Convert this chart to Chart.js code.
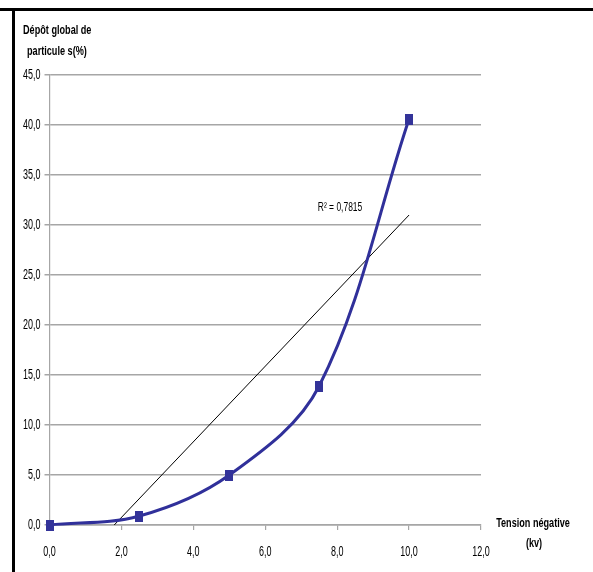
<!DOCTYPE html>
<html>
<head>
<meta charset="utf-8">
<script src="https://cdn.jsdelivr.net/npm/chart.js@4.4.0/dist/chart.umd.min.js"></script>
<style>
html,body{margin:0;padding:0;background:#fff;}
#wrap{position:relative;width:593px;height:572px;}
</style>
</head>
<body>
<div id="wrap"><canvas id="c" width="593" height="572"></canvas></div>
<script>
// Data
const tensionKv = [0, 2.5, 5, 7.5, 10];
const depotPct = [0, 0.9, 5.0, 13.9, 40.6];
const trendX = [1.8, 10];
const trendY = [0, 31.0];
const r2Label = 'R² = 0,7815';
const yTitle = ['Dépôt global de', 'particule s(%)'];
const xTitle = ['Tension négative', '(kv)'];

const FONT = "'Liberation Sans', Arial, sans-serif";
const BLUE = '#30309a';

function makeMarker(){
  const cv = document.createElement('canvas');
  cv.width = 8; cv.height = 11;
  const g = cv.getContext('2d');
  g.fillStyle = '#333399';
  g.fillRect(0,0,8,11);
  return cv;
}
const marker = makeMarker();

const fmt = v => Number(v).toFixed(1).replace('.', ',');

// draw horizontally condensed text (the reference uses a narrow face)
function narrowText(ctx, text, x, y, size, bold, sx, align){
  ctx.save();
  ctx.font = (bold ? 'bold ' : '') + size + 'px ' + FONT;
  ctx.textBaseline = 'middle';
  ctx.textAlign = align;
  ctx.translate(x, y);
  ctx.scale(sx, 1);
  ctx.fillText(text, 0, 0);
  ctx.restore();
}

const decor = {
  id: 'decor',
  afterDraw(chart){
    const ctx = chart.ctx;
    const xs = chart.scales.x, ys = chart.scales.y;
    ctx.save();
    // frame lines
    ctx.fillStyle = '#000';
    ctx.fillRect(0, 8, 593, 3);
    ctx.fillRect(12, 8, 3, 564);
    // tick labels from the library's scales
    ctx.fillStyle = '#000';
    ys.ticks.forEach(t => {
      narrowText(ctx, fmt(t.value), 40.5, ys.getPixelForValue(t.value), 14.5, false, 0.62, 'right');
    });
    xs.ticks.forEach(t => {
      narrowText(ctx, fmt(t.value), xs.getPixelForValue(t.value), 552, 14.5, false, 0.62, 'center');
    });
    // titles
    narrowText(ctx, yTitle[0], 23, 31, 12.5, true, 0.73, 'left');
    narrowText(ctx, yTitle[1], 27, 52, 12.5, true, 0.73, 'left');
    narrowText(ctx, xTitle[0], 533, 523, 13, true, 0.7, 'center');
    narrowText(ctx, xTitle[1], 534, 543, 13, true, 0.7, 'center');
    // R2 label
    narrowText(ctx, r2Label, xs.getPixelForValue(8.08), ys.getPixelForValue(31.8), 13, false, 0.65, 'center');
    ctx.restore();
  }
};

new Chart(document.getElementById('c'), {
  type: 'line',
  data: {
    datasets: [
      {
        label: 'trend',
        data: trendX.map((x,i)=>({x, y: trendY[i]})),
        borderColor: '#000',
        borderWidth: 1,
        pointRadius: 0,
        tension: 0,
        order: 2
      },
      {
        label: 'depot',
        data: tensionKv.map((x,i)=>({x, y: depotPct[i]})),
        borderColor: BLUE,
        borderWidth: 3,
        tension: 0.35,
        pointStyle: marker,
        pointRadius: 5,
        clip: false,
        order: 1
      }
    ]
  },
  options: {
    responsive: false,
    animation: false,
    devicePixelRatio: 1,
    layout: { padding: { left: 0, top: 75, right: 112, bottom: 0 } },
    plugins: { legend: { display: false }, tooltip: { enabled: false } },
    scales: {
      x: {
        type: 'linear', min: 0, max: 12,
        afterFit(s){ s.height = 47; },
        ticks: { display: false, stepSize: 2 },
        grid: { drawOnChartArea: false, drawTicks: true, tickLength: 5, color: '#a6a6a6', lineWidth: 1.2 },
        border: { display: true, color: '#a6a6a6', width: 1.5 }
      },
      y: {
        type: 'linear', min: 0, max: 45,
        afterFit(s){ s.width = 49.5; },
        ticks: { display: false, stepSize: 5 },
        grid: { drawTicks: true, tickLength: 5, color: '#a6a6a6', lineWidth: 1.5 },
        border: { display: true, color: '#a6a6a6', width: 1.2 }
      }
    }
  },
  plugins: [decor]
});
</script>
</body>
</html>
